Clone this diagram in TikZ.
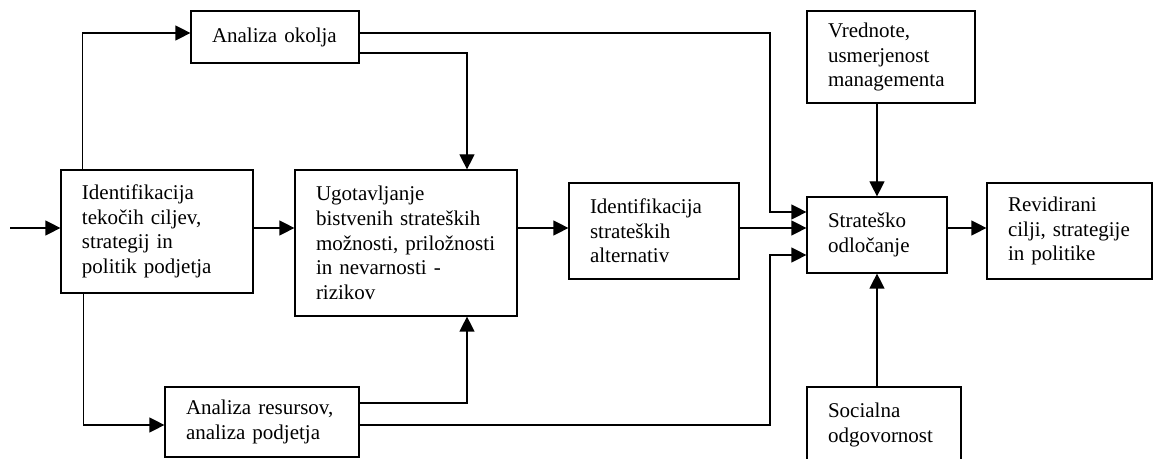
\documentclass[tikz,border=0pt]{standalone}
\usepackage{fontspec}
\setmainfont{Liberation Serif}
\usetikzlibrary{positioning, arrows.meta}

\begin{document}
\begin{tikzpicture}[x=0.5pt, y=-0.5pt, line width=0.6pt,
    every node/.style={font=\fontsize{10.5}{12.3}\selectfont},
    box/.style={draw, align=left, inner xsep=10.5pt, inner ysep=0pt},
    arr/.style={-{Triangle[length=7.5pt, width=7.5pt]}}]
    \useasboundingbox (0,0) rectangle (1153,459);
    \clip (0,0) rectangle (1153,459);

    \node[box, text width=75pt, minimum height=61.5pt] (ident) at (157,231.5)
        {Identifikacija\\tekočih ciljev,\\strategij in\\politik podjetja};
    \node[box, text width=63pt, minimum height=26pt] (okolje) at (275,37) {Analiza okolja};
    \node[box, text width=90pt, minimum height=73pt] (ugot) at (406,243)
        {Ugotavljanje\\bistvenih strateških\\možnosti, priložnosti\\in nevarnosti -\\rizikov};
    \node[box, text width=76pt, minimum height=35pt] (resurs) at (262,422)
        {Analiza resursov,\\analiza podjetja};
    \node[box, text width=64pt, minimum height=48pt] (alter) at (654,231)
        {Identifikacija\\strateških\\alternativ};
    \node[box, text width=49pt, minimum height=38pt] (odloc) at (877,235)
        {Strateško\\odločanje};
    \node[box, text width=63pt, minimum height=46pt] (vred) at (891,57)
        {Vrednote,\\usmerjenost\\managementa};
    \node[box, text width=56pt, minimum height=38pt] (social) at (884,425)
        {Socialna\\odgovornost};
    \node[box, text width=61.5pt, minimum height=48pt] (revid) at (1069.5,231)
        {Revidirani\\cilji, strategije\\in politike};

    \coordinate (in) at (10,228);
    \coordinate (bus) at (770,0);
    \coordinate (in1) at ([yshift=11.5pt]odloc.west);
    \coordinate (in3) at ([yshift=-10pt]odloc.west);

    \draw[arr] (in) -- (ident.west |- in);
    \draw[arr] (ident.east |- in) -- (ugot.west |- in);
    \draw[arr] (ugot.east |- in) -- (alter.west |- in);
    \draw[arr] (alter.east |- in) -- (odloc.west |- in);
    \draw[arr] (odloc.east |- in) -- (revid.west |- in);

    \draw[arr] ([xshift=11pt]ident.north west) |- ([yshift=2pt]okolje.west);
    \draw[arr] ([xshift=11.5pt]ident.south west) |- ([yshift=-1.5pt]resurs.west);
    \draw[arr] ([yshift=-8pt]okolje.east) -| ([xshift=30.5pt]ugot.north);
    \draw[arr] ([yshift=9.5pt]resurs.east) -| ([xshift=30.5pt]ugot.south);
    \draw[arr] ([yshift=2pt]okolje.east) -| (bus |- in1) -- (in1);
    \draw[arr] ([yshift=-1.5pt]resurs.east) -| (bus |- in3) -- (in3);
    \draw[arr] (odloc.north |- vred.south) -- (odloc.north);
    \draw[arr] (odloc.south |- social.north) -- (odloc.south);
\end{tikzpicture}
\end{document}
